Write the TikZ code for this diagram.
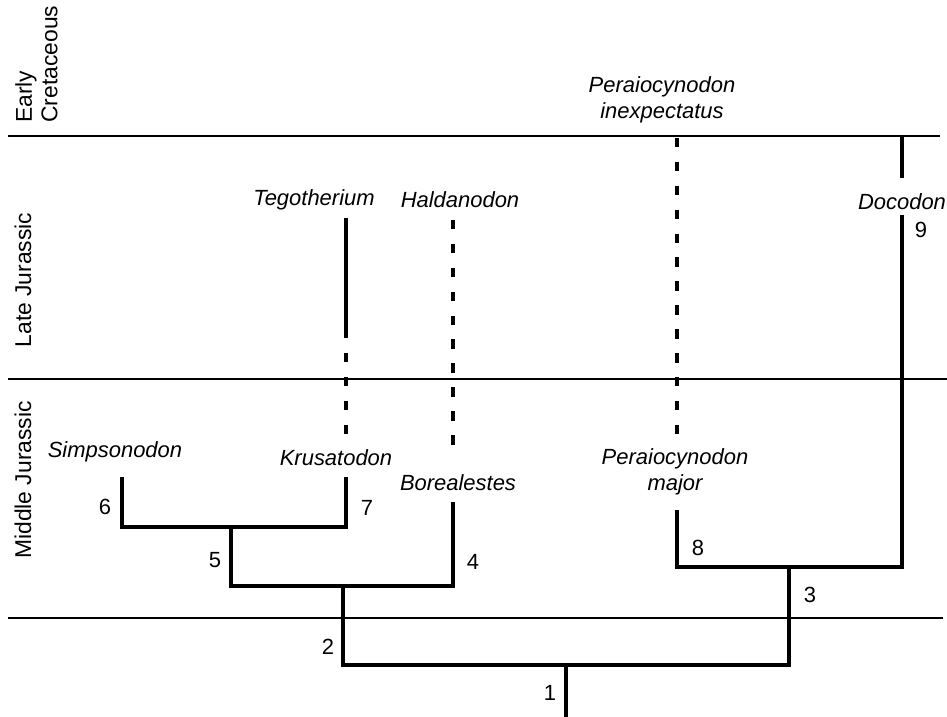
\documentclass[tikz,border=0pt]{standalone}
\usepackage{fontspec}
\setmainfont{Liberation Sans}
\begin{document}
\begin{tikzpicture}[x=0.02cm,y=-0.02cm,
  branch/.style={draw,line width=2.3pt},
  ghost/.style={draw,line width=2.3pt,dash pattern=on 5.4pt off 8.2pt},
  epoch/.style={draw,line width=0.9pt},
  taxon/.style={font=\fontsize{12.5}{14.5}\selectfont\itshape,align=center,inner sep=0pt},
  num/.style={font=\fontsize{12.5}{14.5}\selectfont,inner sep=0pt},
  era/.style={font=\fontsize{13}{14.5}\selectfont,rotate=90,align=left,inner sep=0pt}]
\useasboundingbox (0,0) rectangle (947,717);

% epoch boundaries
\coordinate (e1a) at (8,136);
\coordinate (e1b) at (940,136);
\coordinate (e2a) at (8,379);
\coordinate (e2b) at (947,379);
\coordinate (e3a) at (8,618);
\coordinate (e3b) at (943,618);
\path[epoch] (e1a) -- (e1b);
\path[epoch] (e2a) -- (e2b);
\path[epoch] (e3a) -- (e3b);

\node[era,anchor=north west] (early) at (15,123) {Early\\Cretaceous};
\node[era] (late) at (23,280) {Late Jurassic};
\node[era] (middle) at (23,480) {Middle Jurassic};

% taxa
\node[taxon] (simpsonodon) at (115,452) {Simpsonodon};
\node[taxon] (krusatodon) at (336,458) {Krusatodon};
\node[taxon] (borealestes) at (458,483) {Borealestes};
\node[taxon] (tegotherium) at (314,200) {Tegotherium};
\node[taxon] (haldanodon) at (460,200) {Haldanodon};
\node[taxon] (pmajor) at (675,472) {Peraiocynodon\\major};
\node[taxon] (pinexp) at (662,100) {Peraiocynodon\\inexpectatus};
\node[taxon] (docodon) at (902,202) {Docodon};

% tips and branch points
\coordinate (root) at (566,717);
\coordinate (n1) at (566,665);
\coordinate (n2) at (343,586);
\coordinate (n3) at (789,567);
\coordinate (n5) at (231,527);
\coordinate (simp) at (122,477);
\coordinate (krus) at (346,477);
\coordinate (bore) at (453,502);
\coordinate (pmaj) at (677,510);
\coordinate (doco) at (902,215);
\coordinate (docotop) at (902,136);
\coordinate (docobot) at (902,178);
\coordinate (tegotop) at (346,218);
\coordinate (tegobot) at (346,329);
\coordinate (krustop) at (346,437);
\coordinate (haldtop) at (453,220);
\coordinate (haldbot) at (453,448);
\coordinate (pinxtop) at (677,138);
\coordinate (pinxbot) at (677,437);

\path[branch] (simp) |- (n5) -| (krus);
\path[branch] (n5) |- (n2) -| (bore);
\path[branch] (n2) |- (n1) -| (n3);
\path[branch] (pmaj) |- (n3) -| (doco);
\path[branch] (n1) -- (root);
\path[branch] (docotop) -- (docobot);
\path[branch] (tegotop) -- (tegobot);

\path[ghost] (tegobot) -- (krustop);
\path[ghost] (haldtop) -- (haldbot);
\path[ghost] (pinxtop) -- (pinxbot);

% node numbers
\node[num] (l1) at (550,693) {1};
\node[num] (l2) at (328,647) {2};
\node[num] (l3) at (810,595) {3};
\node[num] (l4) at (473,562) {4};
\node[num] (l5) at (215,560) {5};
\node[num] (l6) at (105,507) {6};
\node[num] (l7) at (367,508) {7};
\node[num] (l8) at (698,548) {8};
\node[num] (l9) at (921,230) {9};

\end{tikzpicture}
\end{document}
